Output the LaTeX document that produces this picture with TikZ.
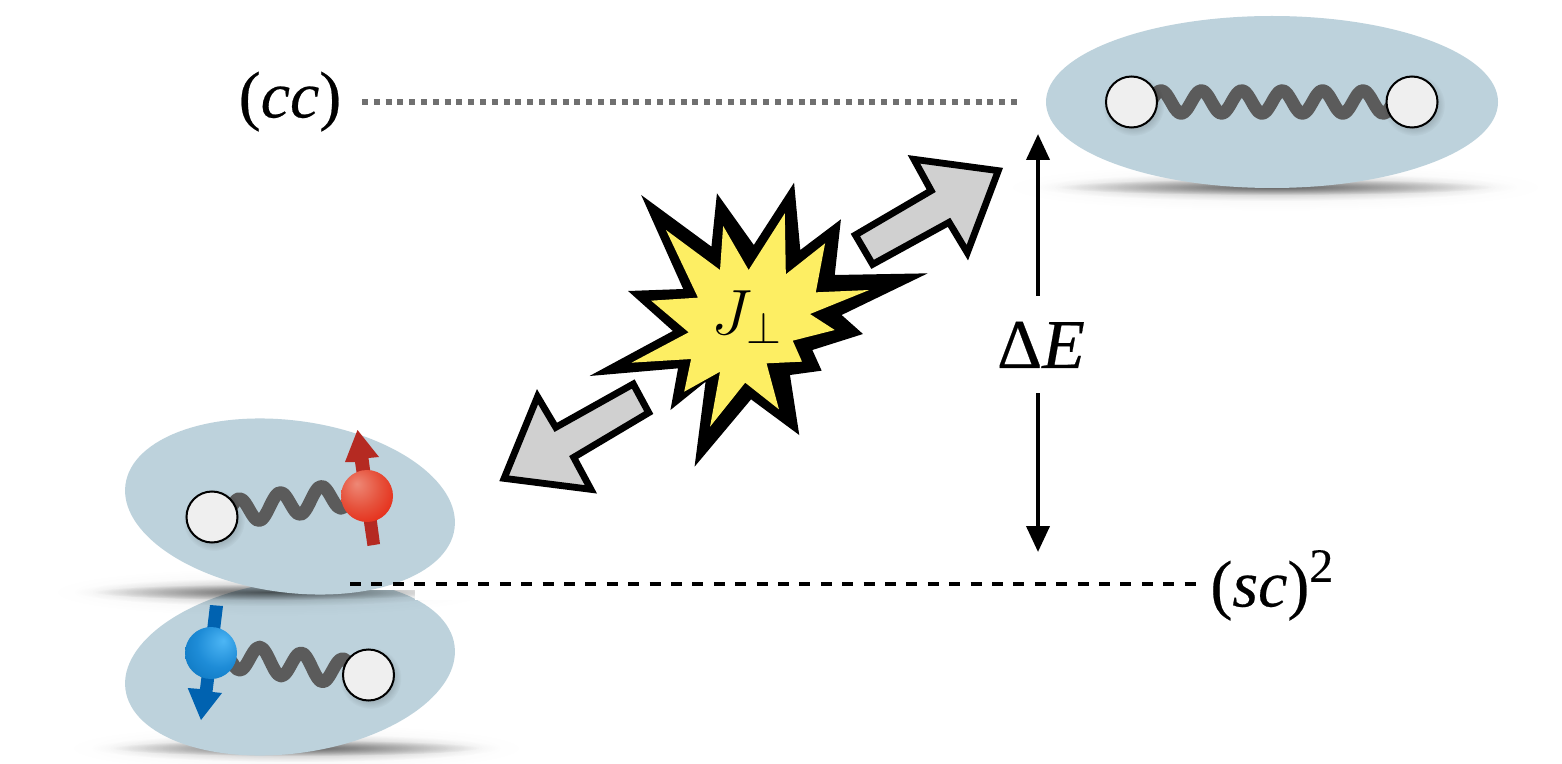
\RequirePackage{fix-cm}
\documentclass[tikz,border=0pt]{standalone}
\usepackage{fontspec}
\setmainfont{Liberation Serif}[FakeBold=0.35, ItalicFeatures={FakeBold=0.35}]
\usetikzlibrary{fadings,arrows.meta}

\definecolor{blobblue}{HTML}{BDD2DC}
\definecolor{springgray}{HTML}{5B5B5B}
\definecolor{siteface}{HTML}{EFEFEF}
\definecolor{spinred}{HTML}{B52A22}
\definecolor{spinblue}{HTML}{0062B0}
\definecolor{burstyellow}{HTML}{FDEE63}
\definecolor{pushgray}{HTML}{D0D0D0}
\definecolor{dotgray}{HTML}{707070}
\definecolor{redA}{HTML}{EE8876}
\definecolor{redB}{HTML}{E6523C}
\definecolor{redC}{HTML}{E6200C}
\definecolor{redD}{HTML}{E11905}
\definecolor{blueA}{HTML}{4DB6F5}
\definecolor{blueB}{HTML}{1E8CD7}
\definecolor{blueC}{HTML}{0870B9}
\definecolor{blueD}{HTML}{0569AF}

\tikzfading[name=softspot, inner color=transparent!0, outer color=transparent!100]

\pgfdeclareradialshading{redball}{\pgfpoint{-10bp}{12bp}}{%
  color(0bp)=(redA);
  color(20bp)=(redB);
  color(40bp)=(redC);
  color(70bp)=(redD)}
\pgfdeclareradialshading{blueball}{\pgfpoint{12bp}{12bp}}{%
  color(0bp)=(blueA);
  color(22bp)=(blueB);
  color(45bp)=(blueC);
  color(70bp)=(blueD)}

\tikzset{
  blob/.style={fill=blobblue, draw=none},
  spring/.style={draw=springgray, line width=6.4pt, line cap=round, line join=round},
  sitedisc/.style={circle, draw=black, line width=1pt, fill=siteface,
    minimum size=25.5pt, inner sep=0pt},
  ballnode/.style={circle, minimum size=26pt, inner sep=0pt},
  pusharrow/.style={fill=pushgray, draw=black, line width=3.4pt, line join=miter, miter limit=10},
  gaparrow/.style={line width=2pt, -{Stealth[length=13pt,width=11.5pt,inset=0pt]}},
  bigtext/.style={inner sep=0pt, font=\fontsize{33}{37}\selectfont}
}

% contact shadow under a blob, built from three soft layers
\newcommand{\groundshadow}[3]{%
  \fill[black, opacity=0.05, path fading=softspot] (#1,#2) ellipse [x radius=#3, y radius=24];
  \fill[black, opacity=0.26, path fading=softspot] (#1,#2) ellipse [x radius=#3*0.88, y radius=14];
  \fill[black, opacity=0.45, path fading=softspot] (#1,#2) ellipse [x radius=#3*0.8, y radius=8];
}
% soft drop shadow of a site disc
\newcommand{\discshadow}[2]{%
  \fill[black, opacity=0.55, path fading=softspot] (#1+2,#2+3) circle [radius=31];
}

\begin{document}
\begin{tikzpicture}[x=0.5pt, y=-0.5pt]
\useasboundingbox (0,0) rectangle (1562,764);
\fill[white] (0,0) rectangle (1562,764);

% lower left pair
\groundshadow{296}{748}{230}
\fill[blob] (290,667.5) ellipse [x radius=166, y radius=86, rotate=7.6];

% shadow of the upper pair falls across the lower blob
\groundshadow{270}{592}{220}
\fill[white] (415,570) rectangle (495,600);
\fill[white] (350,578) rectangle (415,590);

% upper left pair
\fill[blob] (290,506.5) ellipse [x radius=166, y radius=86, rotate=-7.6];

% upper right pair
\groundshadow{1275}{187}{272}
\fill[blob] (1272,102) ellipse [x radius=226, y radius=86];

% level lines
\coordinate (ccstart) at (362,102);
\coordinate (ccend) at (1020,102);
\coordinate (scstart) at (350,584);
\coordinate (scend) at (1200,584);
\draw[draw=dotgray, line width=3pt, dash pattern=on 3pt off 2.9pt] (ccstart) -- (ccend);
\draw[draw=black, line width=2.4pt, dash pattern=on 5.5pt off 5.2pt] (scstart) -- (scend);

% level labels
\node[bigtext, anchor=base] (cclabel) at (290,117.5) {(\textit{cc})};
\node[bigtext, anchor=base west] (sclabel) at (1210,606.5)
  {(\textit{sc})\raisebox{12.3pt}{\fontsize{24}{26}\selectfont 2}};

% energy gap
\node[inner sep=0pt, anchor=base, font=\fontsize{35}{39}\selectfont] (gaplabel) at (1041,368) {Δ\textit{E}};
\coordinate (gaptop) at (1038,134);
\coordinate (gapbottom) at (1038,552);
\coordinate (gapup) at (1038,296);
\coordinate (gapdown) at (1038,393);
\draw[gaparrow] (gapup) -- (gaptop);
\draw[gaparrow] (gapdown) -- (gapbottom);

% springs
\draw[spring] plot[smooth, samples=60, domain=1150:1395, variable=\t]
  ({\t},{102-11.5*cos(8.911*(\t-1161))});
\draw[spring] plot[smooth, samples=40, domain=230:350, variable=\t]
  ({\t},{503.5-0.15*(\t-290)-12.5*cos(8.78*(\t-280))});
\draw[spring] plot[smooth, samples=40, domain=232:352, variable=\t]
  ({\t},{661.5+0.14*(\t-270)-13*cos(8.675*(\t-260))});

% spin arrows
\fill[spinred] (367.5,546) -- (380,544) -- (368.5,458) -- (379,457) -- (357.5,430)
  -- (345,462) -- (355,462) -- cycle;
\fill[spinblue] (210,605) -- (223,606) -- (212.5,692) -- (222,693) -- (201,720)
  -- (187.7,688) -- (200,689) -- cycle;

% site discs with their shadows
\discshadow{212}{517}
\discshadow{368.5}{675}
\discshadow{1131.5}{102}
\discshadow{1412}{102}
\node[sitedisc] (siteA) at (212,517) {};
\node[sitedisc] (siteB) at (368.5,675) {};
\node[sitedisc] (siteC) at (1131.5,102) {};
\node[sitedisc] (siteD) at (1412,102) {};

% spinful balls
\node[ballnode, shading=redball] (upball) at (367,496) {};
\node[ballnode, shading=blueball] (downball) at (211,653) {};

% burst and the two outgoing arrows
\begin{scope}[shift={(480,130)}, x=0.1722pt, y=-0.16667pt]
  \fill[black] (468,195) -- (672,350) -- (688,190) -- (795,345) -- (912,158) -- (930,360)
    -- (1048,268) -- (1030,435) -- (1300,430) -- (1050,555) -- (1112,612) -- (965,660)
    -- (992,722) -- (900,735) -- (927,915) -- (787,808) -- (623,1010) -- (655,755)
    -- (553,840) -- (575,715) -- (318,738) -- (560,603) -- (430,483) -- (590,477) -- cycle;
  \fill[burstyellow] (540,300) -- (697,420) -- (706,288) -- (780,420) -- (885,250) -- (888,433)
    -- (1002,340) -- (975,487) -- (1130,480) -- (958,552) -- (1030,600) -- (908,632)
    -- (935,695) -- (832,700) -- (868,838) -- (770,758) -- (668,890) -- (697,725)
    -- (593,785) -- (613,687) -- (440,698) -- (606,607) -- (497,512) -- (633,503) -- cycle;
  \draw[pusharrow] (1505,122) -- (1260,88) -- (1310,182) -- (1090,315) -- (1140,403)
    -- (1362,277) -- (1415,368) -- cycle;
  \draw[pusharrow] (70,1045) -- (167,800) -- (220,892) -- (445,762) -- (490,848)
    -- (272,982) -- (322,1078) -- cycle;
\end{scope}

\node[inner sep=0pt, font=\fontsize{32}{35}\selectfont] (coupling) at (747,317) {$J_\perp$};
\end{tikzpicture}
\end{document}
